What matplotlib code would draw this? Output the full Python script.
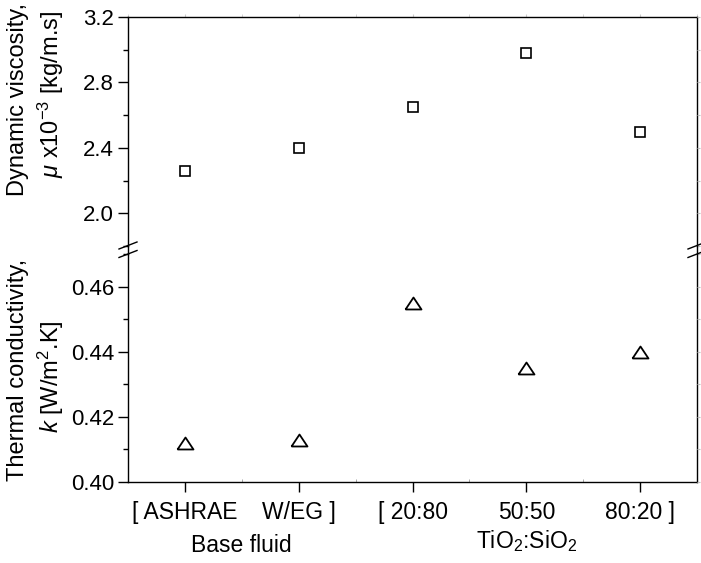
import matplotlib
matplotlib.use("Agg")
import matplotlib.pyplot as plt
from matplotlib.lines import Line2D
from matplotlib.ticker import MultipleLocator, FixedLocator
import matplotlib.transforms as mtransforms

plt.rcParams['font.family'] = ['Liberation Sans', 'DejaVu Sans']
plt.rcParams['mathtext.fontset'] = 'custom'
plt.rcParams['mathtext.rm'] = 'Liberation Sans'
plt.rcParams['mathtext.it'] = 'Liberation Sans:italic'
plt.rcParams['mathtext.bf'] = 'Liberation Sans:bold'

# ---- data ----
categories = ['[ ASHRAE', 'W/EG ]', '[ 20:80', '50:50', '80:20 ]']
positions = [1, 2, 3, 4, 5]
viscosity = [2.26, 2.40, 2.65, 2.98, 2.50]
conductivity = [0.412, 0.413, 0.455, 0.435, 0.440]
visc_ticks = [2.0, 2.4, 2.8, 3.2]
visc_ticklabels = ['2.0', '2.4', '2.8', '3.2']
cond_ticks = [0.40, 0.42, 0.44, 0.46]
cond_ticklabels = ['0.40', '0.42', '0.44', '0.46']
group_labels = ['Base fluid', r'TiO$_2$:SiO$_2$']
group_centers = [1.5, 4.0]

W, H = 701, 563
fig = plt.figure(figsize=(W / 100, H / 100), dpi=100)

left, right = 128 / W, 697 / W
def fy(p):
    return 1 - p / H

ax1 = fig.add_axes([left, fy(246), right - left, fy(17) - fy(246)])
ax2 = fig.add_axes([left, fy(482), right - left, fy(254) - fy(482)])

FS = 16.5
LFS = 17
TFS = 16

ax1.plot(positions, viscosity, linestyle='none', marker='s', markersize=7.5,
         markerfacecolor='white', markeredgecolor='black', markeredgewidth=1.2)
tri = [(-1, -0.75), (1, -0.75), (0, 0.75), (-1, -0.75)]
ax2.plot(positions, conductivity, linestyle='none', marker=tri, markersize=11.5,
         markerfacecolor='white', markeredgecolor='black', markeredgewidth=1.3)

ax1.set_ylim(1.8, 3.2)
ax1.set_yticks(visc_ticks)
ax1.set_yticklabels(visc_ticklabels)
ax1.yaxis.set_minor_locator(MultipleLocator(0.2))
ax2.set_ylim(0.40, 0.47)
ax2.set_yticks(cond_ticks)
ax2.set_yticklabels(cond_ticklabels)
ax2.yaxis.set_minor_locator(MultipleLocator(0.01))

for ax in (ax1, ax2):
    ax.set_xlim(0.5, 5.5)
    ax.xaxis.set_major_locator(MultipleLocator(1))
    ax.xaxis.set_minor_locator(MultipleLocator(0.5))
    for s in ax.spines.values():
        s.set_linewidth(1.0)
    ax.tick_params(axis='y', which='major', direction='out', length=7, width=1.0,
                   labelsize=TFS, pad=3)
    ax.tick_params(axis='y', which='minor', direction='out', length=3.5, width=1.0)
    # faint right-hand ticks via a twin axis
    axr = ax.twinx()
    axr.set_ylim(ax.get_ylim())
    axr.yaxis.set_major_locator(FixedLocator(list(ax.get_yticks())))
    axr.yaxis.set_minor_locator(ax.yaxis.get_minor_locator())
    axr.tick_params(axis='y', which='both', right=True, labelright=False,
                    direction='out', length=2.5, width=0.8, color='0.75')
    for s in axr.spines.values():
        s.set_visible(False)

ax1.spines['bottom'].set_visible(False)
ax1.tick_params(axis='x', which='both', bottom=False, labelbottom=False,
                top=True, direction='out', length=2, color='0.8')

ax2.spines['top'].set_visible(False)
ax2.set_xticks(positions)
ax2.set_xticklabels(categories)
ax2.tick_params(axis='x', which='major', direction='out', length=7, width=1.0,
                labelsize=FS, pad=7)
ax2.tick_params(axis='x', which='minor', direction='in', length=2, color='0.6')

# connect spines across the gap
for xs in (left, right):
    fig.add_artist(Line2D([xs, xs], [fy(254), fy(246)], color='black', lw=1.0,
                          transform=fig.transFigure))
# break marks
for xs in (left, right):
    for yc in (245.5, 254):
        x0 = xs * W - 9
        x1 = xs * W + 9
        fig.add_artist(Line2D([x0 / W, x1 / W], [fy(yc + 3.5), fy(yc - 3.5)],
                              color='black', lw=1.0, transform=fig.transFigure))

# y labels
fig.text(18.5 / W, fy(100), 'Dynamic viscosity,', rotation=90, ha='center',
         va='center', fontsize=LFS)
fig.text(51 / W, fy(94), r'$\mathit{\mu}$ x10$^{-3}$ [kg/m.s]', rotation=90,
         ha='center', va='center', fontsize=LFS)
fig.text(18.5 / W, fy(370), 'Thermal conductivity,', rotation=90, ha='center',
         va='center', fontsize=LFS)
fig.text(51 / W, fy(377), r'$\mathit{k}$ [W/m$^2$.K]', rotation=90,
         ha='center', va='center', fontsize=LFS)

# group labels
trans = mtransforms.blended_transform_factory(ax2.transData, fig.transFigure)
fig.text(group_centers[0], fy(552), group_labels[0], transform=trans,
         ha='center', va='baseline', fontsize=FS)
fig.text(group_centers[1], fy(548), group_labels[1], transform=trans,
         ha='center', va='baseline', fontsize=FS)

fig.savefig('out.png', dpi=100)
